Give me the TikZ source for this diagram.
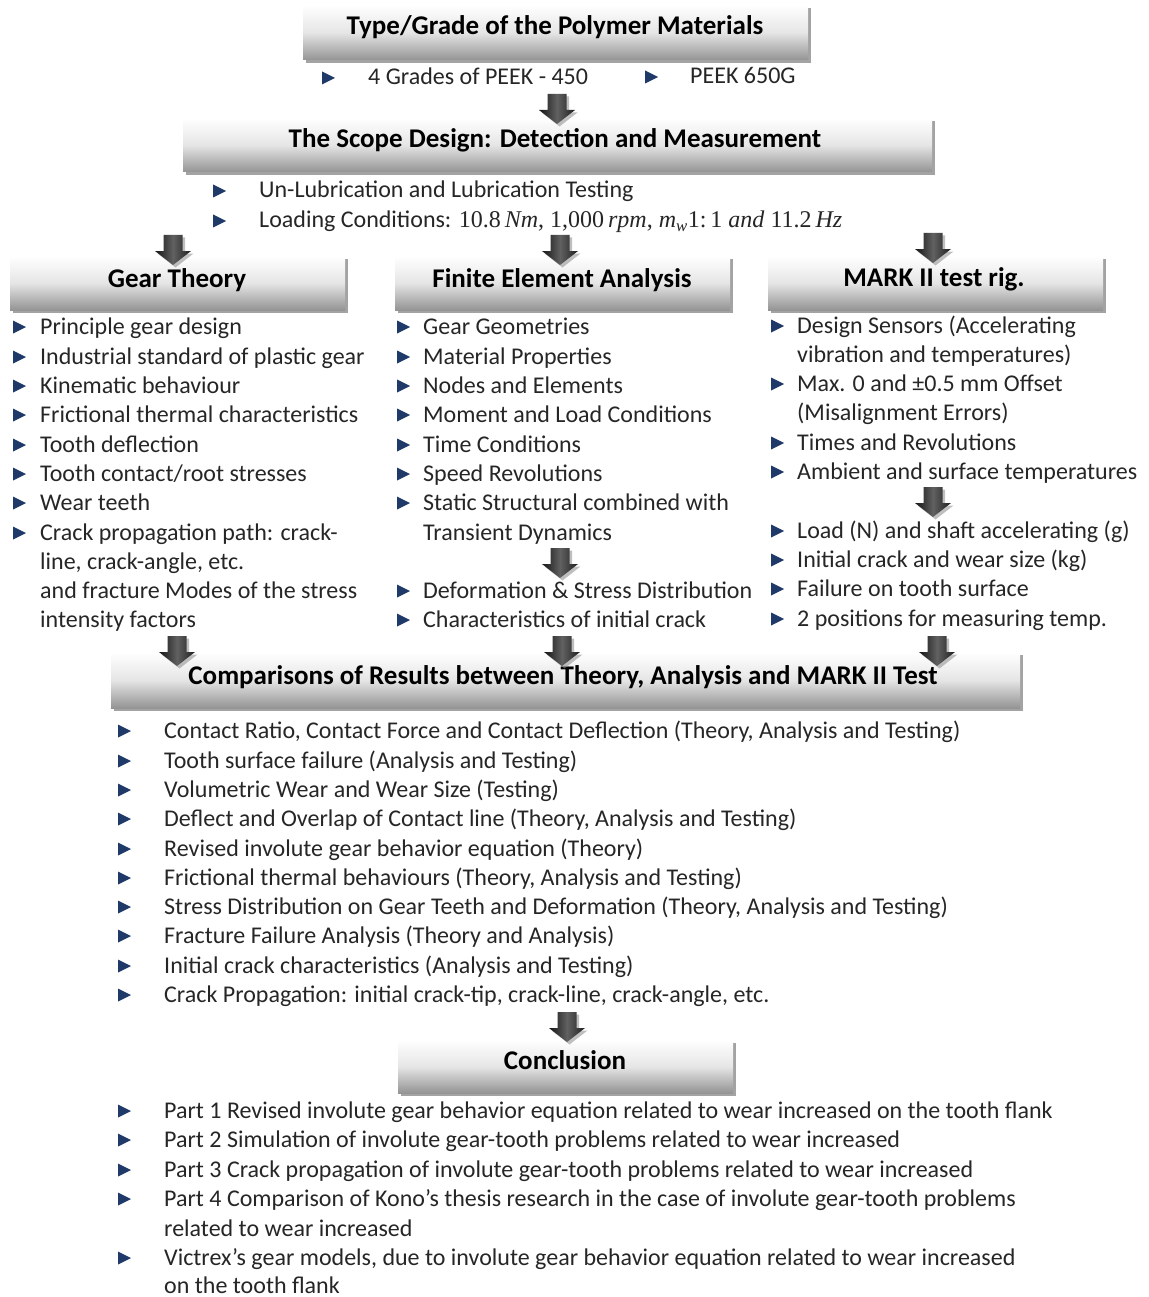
\documentclass[tikz,border=0pt]{standalone}
\usepackage{fontspec}
\setmainfont{Carlito}
\newfontfamily\mathserif{Liberation Serif}
\usetikzlibrary{shadows}
\definecolor{bulc}{HTML}{1F3A68}
\definecolor{txtc}{HTML}{262626}
\tikzset{
  hdr/.style={draw=none, top color=white, bottom color=black!42, middle color=black!10,
    drop shadow={shadow xshift=3pt, shadow yshift=-3pt, fill=black!45, opacity=0.8}, inner sep=0pt},
  ttl/.style={font=\fontsize{27}{31}\selectfont\bfseries, text=black, inner sep=0pt, anchor=base},
  txt/.style={font=\fontsize{24}{29}\selectfont, text=txtc, anchor=base west, inner sep=0pt},
  arrshadow/.style={fill=black!45, opacity=0.55},
  arrbody/.style={left color=black!92, right color=black!88, middle color=black!62},
}
\newcommand\hdrbox[5]{\node[hdr, minimum width=#4pt, minimum height=#5pt] (#1) at (#2,#3) {};}
\newcommand\blkarrow[3]{%
  \coordinate (#1) at (#2,#3);
  \fill[arrshadow, shift={(#2+2.5,#3+2.5)}] (-9.5,0)--(9.5,0)--(9.5,16)--(18,16)--(0,30)--(-18,16)--(-9.5,16)--cycle;
  \shade[arrbody, shift={(#2,#3)}] (-9.5,0)--(9.5,0)--(9.5,16)--(18,16)--(0,30)--(-18,16)--(-9.5,16)--cycle;}
\newcommand\bul[2]{\fill[bulc, shift={(#1,#2)}] (0,-6.5)--(13,0)--(0,6.5)--cycle;}
\newcommand\li[4]{\node[txt] (#1) at (#2,#3+7) {#4};}
\begin{document}
\begin{tikzpicture}[x=1pt,y=-1pt]
\useasboundingbox (0,0) rectangle (1148,1297);
\fill[white] (0,0) rectangle (1148,1297);
% header boxes
\hdrbox{b1}{555.5}{32.5}{505}{55}
\hdrbox{b2}{557.5}{145}{749}{54}
\hdrbox{b3}{177.5}{283}{335}{54}
\hdrbox{b4}{562.5}{283}{335}{54}
\hdrbox{b5}{935.5}{283}{335}{54}
\hdrbox{b6}{565.5}{680}{909}{56}
\hdrbox{b7}{565.5}{1066.5}{335}{53}
\node[ttl] (t1) at (555,35) {Type/Grade of the Polymer Materials};
\node[ttl] (t2) at (555,148) {The Scope Design: Detection and Measurement};
\node[ttl] (t3) at (177,287) {Gear Theory};
\node[ttl] (t4) at (562,287) {Finite Element Analysis};
\node[ttl] (t5) at (934,286) {MARK II test rig.};
\node[ttl] (t6) at (563,684) {Comparisons of Results between Theory, Analysis and MARK II Test};
\node[ttl] (t7) at (565,1069) {Conclusion};
% header 1 list
\bul{322}{78}\li{p1}{368}{78}{4 Grades of PEEK - 450}
\bul{645}{77}\li{p2}{690}{77}{PEEK 650G}
% header 2 list
\bul{213}{191}\li{s1}{259}{191}{Un-Lubrication and Lubrication Testing}
\bul{213}{221}\li{s2}{259}{221}{Loading Conditions: {\mathserif 10.8\,\textit{Nm}, 1,000\,\textit{rpm}, \textit{m}\textsubscript{\textit{w}}1:\,1 \textit{and} 11.2\,\textit{Hz}}}
% column 1
\bul{13}{327}\li{g1}{40}{327}{Principle gear design}
\bul{13}{357}\li{g2}{40}{357}{Industrial standard of plastic gear}
\bul{13}{386}\li{g3}{40}{386}{Kinematic behaviour}
\bul{13}{415}\li{g4}{40}{415}{Frictional thermal characteristics}
\bul{13}{445}\li{g5}{40}{445}{Tooth deflection}
\bul{13}{474}\li{g6}{40}{474}{Tooth contact/root stresses}
\bul{13}{503}\li{g7}{40}{503}{Wear teeth}
\bul{13}{533}\li{g8}{40}{533}{Crack propagation path: crack-}
\li{g9}{40}{562}{line, crack-angle, etc.}
\li{g10}{40}{591}{and fracture Modes of the stress}
\li{g11}{40}{620}{intensity factors}
% column 2
\bul{397}{327}\li{f1}{423}{327}{Gear Geometries}
\bul{397}{357}\li{f2}{423}{357}{Material Properties}
\bul{397}{386}\li{f3}{423}{386}{Nodes and Elements}
\bul{397}{415}\li{f4}{423}{415}{Moment and Load Conditions}
\bul{397}{445}\li{f5}{423}{445}{Time Conditions}
\bul{397}{474}\li{f6}{423}{474}{Speed Revolutions}
\bul{397}{503}\li{f7}{423}{503}{Static Structural combined with}
\li{f8}{423}{533}{Transient Dynamics}
\bul{397}{591}\li{f9}{423}{591}{Deformation \& Stress Distribution}
\bul{397}{620}\li{f10}{423}{620}{Characteristics of initial crack}
% column 3
\bul{771}{326}\li{m1}{797}{326}{Design Sensors (Accelerating}
\li{m2}{797}{355}{vibration and temperatures)}
\bul{771}{384}\li{m3}{797}{384}{Max. 0 and ±0.5 mm Offset}
\li{m4}{797}{413}{(Misalignment Errors)}
\bul{771}{443}\li{m5}{797}{443}{Times and Revolutions}
\bul{771}{472}\li{m6}{797}{472}{Ambient and surface temperatures}
\bul{771}{531}\li{m7}{797}{531}{Load (N) and shaft accelerating (g)}
\bul{771}{560}\li{m8}{797}{560}{Initial crack and wear size (kg)}
\bul{771}{589}\li{m9}{797}{589}{Failure on tooth surface}
\bul{771}{619}\li{m10}{797}{619}{2 positions for measuring temp.}
% comparisons list
\bul{118}{731}\li{c1}{164}{731}{Contact Ratio, Contact Force and Contact Deflection (Theory, Analysis and Testing)}
\bul{118}{761}\li{c2}{164}{761}{Tooth surface failure (Analysis and Testing)}
\bul{118}{790}\li{c3}{164}{790}{Volumetric Wear and Wear Size (Testing)}
\bul{118}{819}\li{c4}{164}{819}{Deflect and Overlap of Contact line (Theory, Analysis and Testing)}
\bul{118}{849}\li{c5}{164}{849}{Revised involute gear behavior equation (Theory)}
\bul{118}{878}\li{c6}{164}{878}{Frictional thermal behaviours (Theory, Analysis and Testing)}
\bul{118}{907}\li{c7}{164}{907}{Stress Distribution on Gear Teeth and Deformation (Theory, Analysis and Testing)}
\bul{118}{936}\li{c8}{164}{936}{Fracture Failure Analysis (Theory and Analysis)}
\bul{118}{966}\li{c9}{164}{966}{Initial crack characteristics (Analysis and Testing)}
\bul{118}{995}\li{c10}{164}{995}{Crack Propagation: initial crack-tip, crack-line, crack-angle, etc.}
% conclusion list
\bul{118}{1111}\li{k1}{164}{1111}{Part 1 Revised involute gear behavior equation related to wear increased on the tooth flank}
\bul{118}{1140}\li{k2}{164}{1140}{Part 2 Simulation of involute gear-tooth problems related to wear increased}
\bul{118}{1170}\li{k3}{164}{1170}{Part 3 Crack propagation of involute gear-tooth problems related to wear increased}
\bul{118}{1199}\li{k4}{164}{1199}{Part 4 Comparison of Kono’s thesis research in the case of involute gear-tooth problems}
\li{k5}{164}{1229}{related to wear increased}
\bul{118}{1258}\li{k6}{164}{1258}{Victrex’s gear models, due to involute gear behavior equation related to wear increased}
\li{k7}{164}{1286}{on the tooth flank}
% block arrows
\blkarrow{a1}{557}{94}
\blkarrow{a2}{173}{235}
\blkarrow{a3}{560}{235}
\blkarrow{a4}{933}{233}
\blkarrow{a5}{933}{487}
\blkarrow{a6}{560}{548}
\blkarrow{a7}{177}{636}
\blkarrow{a8}{562}{636}
\blkarrow{a9}{937}{636}
\blkarrow{a10}{567}{1012}
\end{tikzpicture}
\end{document}
